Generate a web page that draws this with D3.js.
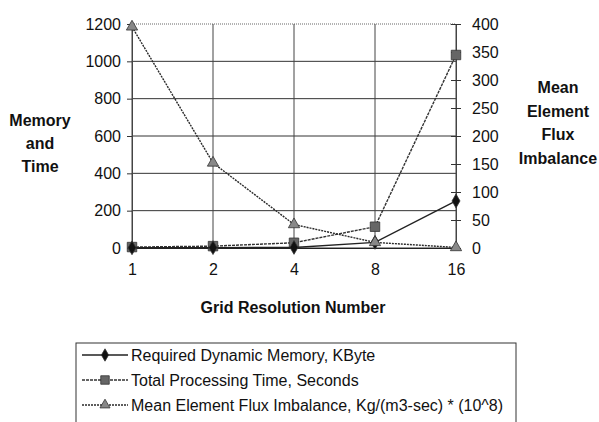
<!DOCTYPE html>
<html>
<head>
<meta charset="utf-8">
<script src="https://cdn.jsdelivr.net/npm/d3@7"></script>
<style>
  body { margin: 0; background: #fff; }
  text { font-family: "Liberation Sans", Arial, sans-serif; fill: #111; }
</style>
</head>
<body>
<div class="chart"></div>
<script>
var svgWidth = 599;
var svgHeight = 422;

// data
var categories = ["1", "2", "4", "8", "16"];
var memory = [1, 2, 3, 30, 252];          // KByte, left axis
var procTime = [5, 10, 28, 114, 1034];    // seconds, left axis
var flux = [395, 152, 42, 10, 1];         // right axis
var leftTicks = [0, 200, 400, 600, 800, 1000, 1200];
var rightTicks = [0, 50, 100, 150, 200, 250, 300, 350, 400];
var legendLabels = [
  "Required Dynamic Memory, KByte",
  "Total Processing Time, Seconds",
  "Mean Element Flux Imbalance, Kg/(m3-sec) * (10^8)"
];

var margin = { top: 24, right: 143, bottom: 174, left: 132 };
var width = svgWidth - margin.left - margin.right;
var height = svgHeight - margin.top - margin.bottom;

var svg = d3.select(".chart")
  .append("svg")
  .attr("width", svgWidth)
  .attr("height", svgHeight);

var chartGroup = svg.append("g")
  .attr("transform", `translate(${margin.left}, ${margin.top})`);

var xScale = d3.scalePoint()
  .domain(categories)
  .range([0, width]);

var yLeft = d3.scaleLinear().domain([0, 1200]).range([height, 0]);
var yRight = d3.scaleLinear().domain([0, 400]).range([height, 0]);

// gridlines
chartGroup.selectAll(".hgrid")
  .data(leftTicks)
  .enter()
  .append("line")
  .attr("x1", 0)
  .attr("x2", width)
  .attr("y1", d => yLeft(d))
  .attr("y2", d => yLeft(d))
  .attr("stroke", d => d === 1200 ? "#666" : "#333")
  .attr("stroke-dasharray", d => d === 1200 ? "1,1" : null)
  .attr("stroke-width", 1);

chartGroup.selectAll(".vgrid")
  .data(categories)
  .enter()
  .append("line")
  .attr("x1", d => xScale(d))
  .attr("x2", d => xScale(d))
  .attr("y1", 0)
  .attr("y2", height)
  .attr("stroke", "#444")
  .attr("stroke-width", 1);

// axes
var leftAxis = d3.axisLeft(yLeft).tickValues(leftTicks).tickFormat(d3.format("d")).tickSize(5).tickPadding(6);
var rightAxis = d3.axisRight(yRight).tickValues(rightTicks).tickFormat(d3.format("d")).tickSize(5).tickPadding(11);
var bottomAxis = d3.axisBottom(xScale).tickSize(0).tickPadding(16);

var gl = chartGroup.append("g").call(leftAxis);
var gr = chartGroup.append("g").attr("transform", `translate(${width}, 0)`).call(rightAxis);
var gb = chartGroup.append("g").attr("transform", `translate(0, ${height})`).call(bottomAxis);

[gl, gr, gb].forEach(function(g) {
  g.selectAll("text").style("font-size", "16px").attr("fill", "#111");
  g.selectAll("line").attr("stroke", "#333");
  g.select(".domain").attr("stroke", "#444");
});
gb.select(".domain").attr("stroke", "#222");
// right axis ticks cross the axis line
gr.selectAll(".tick line").attr("x1", -5);

// series
var series = [
  { values: procTime, scale: yLeft, marker: "square", dash: "3,1", color: "#333" },
  { values: memory, scale: yLeft, marker: "diamond", dash: null, color: "#222" },
  { values: flux, scale: yRight, marker: "triangle", dash: "2,1", color: "#2a2a2a" }
];

var symbolTypes = {
  diamond: { type: d3.symbolDiamond, size: 55, fill: "#111" },
  square: { type: d3.symbolSquare, size: 90, fill: "#666" },
  triangle: { type: d3.symbolTriangle, size: 55, fill: "#888" }
};

series.forEach(function(s) {
  var line = d3.line()
    .x((d, i) => xScale(categories[i]))
    .y(d => s.scale(d));

  chartGroup.append("path")
    .datum(s.values)
    .attr("d", line)
    .attr("fill", "none")
    .attr("stroke", s.color)
    .attr("stroke-width", 1.4)
    .attr("stroke-dasharray", s.dash);

  var sym = symbolTypes[s.marker];
  chartGroup.selectAll(".m-" + s.marker)
    .data(s.values)
    .enter()
    .append("path")
    .attr("transform", (d, i) => `translate(${xScale(categories[i])}, ${s.scale(d)})`)
    .attr("d", d3.symbol().type(sym.type).size(sym.size))
    .attr("fill", sym.fill)
    .attr("stroke", "#333")
    .attr("stroke-width", 0.8);
});

// axis titles
function multiLine(x, y, lines, gap) {
  var t = svg.append("text")
    .attr("x", x)
    .attr("y", y)
    .attr("text-anchor", "middle")
    .style("font-size", "16px")
    .style("font-weight", "bold");
  lines.forEach(function(l, i) {
    t.append("tspan").attr("x", x).attr("dy", i === 0 ? 0 : gap).text(l);
  });
}
multiLine(40, 126, ["Memory", "and", "Time"], 23);
multiLine(558, 93, ["Mean", "Element", "Flux", "Imbalance"], 23.5);

svg.append("text")
  .attr("x", 293)
  .attr("y", 313)
  .attr("text-anchor", "middle")
  .style("font-size", "16px")
  .style("font-weight", "bold")
  .text("Grid Resolution Number");

// legend
var legend = svg.append("g").attr("transform", "translate(76, 343)");
legend.append("rect")
  .attr("x", 0)
  .attr("y", 0)
  .attr("width", 440)
  .attr("height", 80)
  .attr("fill", "none")
  .attr("stroke", "#333")
  .attr("stroke-width", 1);

var legendSeries = [series[1], series[0], series[2]];
legendSeries.forEach(function(s, i) {
  var row = legend.append("g").attr("transform", `translate(0, ${12 + i * 25})`);
  row.append("line")
    .attr("x1", 6)
    .attr("x2", 52)
    .attr("y1", 0)
    .attr("y2", 0)
    .attr("stroke", s.color)
    .attr("stroke-width", 1.3)
    .attr("stroke-dasharray", s.dash);
  var sym = symbolTypes[s.marker];
  row.append("path")
    .attr("transform", "translate(29, 0)")
    .attr("d", d3.symbol().type(sym.type).size(sym.size * 0.8))
    .attr("fill", sym.fill)
    .attr("stroke", "#333")
    .attr("stroke-width", 0.8);
  row.append("text")
    .attr("x", 55)
    .attr("y", 6)
    .style("font-size", "16px")
    .text(legendLabels[i]);
});
</script>
</body>
</html>
